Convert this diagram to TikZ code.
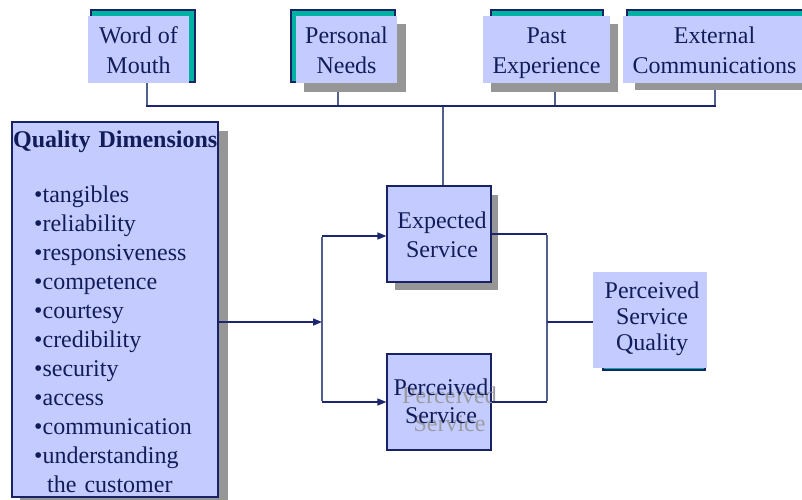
\documentclass[tikz,border=0pt]{standalone}
\usepackage{fontspec}
\setmainfont{Liberation Serif}
\usetikzlibrary{arrows.meta}

\definecolor{boxfill}{RGB}{196,204,255}
\definecolor{tealfill}{RGB}{0,178,163}
\definecolor{boxline}{RGB}{24,34,100}
\definecolor{inktext}{RGB}{18,28,88}
\definecolor{dropgray}{RGB}{150,150,150}
\definecolor{ghostgray}{RGB}{155,155,162}
\definecolor{busnavy}{RGB}{28,38,108}
\definecolor{slate}{RGB}{82,96,142}

\begin{document}
\begin{tikzpicture}[x=1pt,y=-1pt,
  panel/.style={fill=boxfill, draw=none, inner sep=0pt},
  framed/.style={panel, draw=boxline, line width=1.2pt},
  tab/.style={fill=tealfill, draw=boxline, line width=1.2pt, inner sep=0pt},
  drop/.style={fill=dropgray, draw=none, inner sep=0pt},
  caption/.style={text=inktext, align=center, inner sep=0pt, anchor=base,
    font=\fontsize{24}{#1}\selectfont},
  caption/.default=30,
  bus/.style={draw=busnavy, line width=1.4pt},
  riser/.style={draw=slate, line width=2pt},
  feed/.style={draw=busnavy, line width=1.4pt,
    -{Triangle[length=9pt,width=7pt]}},
  sz/.style 2 args={minimum width=#1pt, minimum height=#2pt}]

\useasboundingbox (0,0) rectangle (802,499);
\clip (0,0) rectangle (802,499);

% --- expectation sources (top row) ---
\node[tab, sz={104}{72}] (womT) at (143,46) {};
\node[panel, sz={101}{67}] (wom) at (138.5,49.5) {};
\node[caption] (womText) at (138.5,73) {Word of\\Mouth};

\node[drop, sz={102}{68}] (pnS) at (355,58) {};
\node[tab, sz={104}{72}] (pnT) at (343,46) {};
\node[panel, sz={101}{67}] (pn) at (346.5,49.5) {};
\node[caption] (pnText) at (346.5,73) {Personal\\Needs};

\node[drop, sz={127}{68}] (peS) at (554.5,58) {};
\node[tab, sz={112}{72}] (peT) at (547,46) {};
\node[panel, sz={127}{67}] (pe) at (546.5,49.5) {};
\node[caption] (peText) at (546.5,73) {Past\\Experience};

\node[drop, sz={170}{66}] (ecS) at (720,57) {};
\node[tab, sz={178}{72}] (ecT) at (716,46) {};
\node[panel, sz={183}{67}] (ec) at (714.5,49.5) {};
\node[caption] (ecText) at (714.5,73) {External\\Communications};

% --- quality dimensions ---
\node[drop, sz={208}{380}] (qdS) at (124,321) {};
\node[framed, sz={206}{375}] (qd) at (115,309.5) {};
\node[text=inktext, inner sep=0pt, text width=206pt, align=left,
  anchor=base west, font=\fontsize{24}{29}\selectfont] (qdText) at (12,147)
  {\makebox[206pt]{\bfseries Quality Dimensions}\\[26pt]
   \hspace*{22pt}•tangibles\\
   \hspace*{22pt}•reliability\\
   \hspace*{22pt}•responsiveness\\
   \hspace*{22pt}•competence\\
   \hspace*{22pt}•courtesy\\
   \hspace*{22pt}•credibility\\
   \hspace*{22pt}•security\\
   \hspace*{22pt}•access\\
   \hspace*{22pt}•communication\\
   \hspace*{22pt}•understanding\\
   \hspace*{35pt}the customer};

% --- expected and perceived service ---
\node[drop, sz={103}{95}] (esS) at (446.5,242.5) {};
\node[framed, sz={104}{96}] (es) at (439,234) {};
\node[caption=29] (esText) at (442,257) {Expected\\Service};

\node[framed, sz={104}{96}] (ps) at (439,402) {};
\node[caption=28, text=ghostgray] (psGhost) at (449.5,431.5) {Perceived\\Service};
\node[caption=28] (psText) at (441,423) {Perceived\\Service};

% --- perceived service quality ---
\node[tab, sz={102}{90}] (psqT) at (654,325) {};
\node[panel, sz={114}{96}] (psq) at (650,320) {};
\node[caption=26] (psqText) at (652,350) {Perceived\\Service\\Quality};

% --- connectors: top bus ---
\coordinate (tapW) at (147,106);
\coordinate (tapP) at (338,106);
\coordinate (tapE) at (555,106);
\coordinate (tapC) at (715,106);
\coordinate (tapES) at (443,106);
\draw[riser] (tapW |- wom.south) -- (tapW);
\draw[riser] (tapP |- pnS.south) -- (tapP);
\draw[riser] (tapE |- peS.south) -- (tapE);
\draw[riser] (tapC |- ecS.south) -- (tapC);
\draw[riser] (tapES) -- (tapES |- es.north);
\draw[bus] ([xshift=-1pt]tapW) -- ([xshift=1pt]tapC);

% --- connectors: dimensions into both services ---
\coordinate (qdJ) at (322,322);
\coordinate (splitTop) at (322,236);
\coordinate (splitBot) at (322,402);
\draw[riser] ([yshift=-1pt]splitTop) -- ([yshift=1pt]splitBot);
\draw[feed] (qdJ -| qd.east) -- (qdJ);
\draw[feed] (splitTop) -- (splitTop -| es.west);
\draw[feed] (splitBot) -- (splitBot -| ps.west);

% --- connectors: both services into perceived quality ---
\coordinate (mergeTop) at (547,234);
\coordinate (mergeBot) at (547,402);
\coordinate (mergeMid) at (547,322);
\draw[riser] ([yshift=-1pt]mergeTop) -- ([yshift=1pt]mergeBot);
\draw[bus] (es.east) -- (mergeTop);
\draw[bus] (ps.east) -- (mergeBot);
\draw[bus] (mergeMid) -- (mergeMid -| psq.west);

\end{tikzpicture}
\end{document}
